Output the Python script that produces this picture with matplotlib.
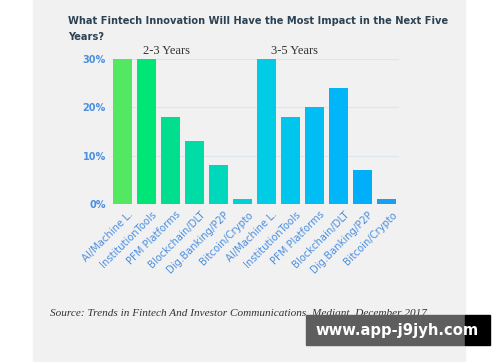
import matplotlib.pyplot as plt
import matplotlib.patches as mpatches
from matplotlib.transforms import ScaledTranslation

labels = ['AI/Machine L.', 'InstitutionTools', 'PFM Platforms', 'Blockchain/DLT',
          'Dig.Banking/P2P', 'Bitcoin/Crypto']
vals_23 = [30, 30, 18, 13, 8, 1]
vals_35 = [30, 18, 20, 24, 7, 1]
colores = ['#52e862', '#00e676', '#00de8e', '#00dca6', '#00d8bc', '#00d2d4',
           '#00cce6', '#00c6ee', '#00bef4', '#00b6f8', '#00aefa', '#1a9ff0']
yticks = [0, 10, 20, 30]

W, H = 500, 362
fig = plt.figure(figsize=(W / 100, H / 100), dpi=100)
fig.patch.set_facecolor('white')
renderer = fig.canvas.get_renderer()


def ajustar(t, ancho_px):
    # escala el tamaño de fuente para que el texto ocupe ancho_px
    w = t.get_window_extent(renderer).width
    t.set_fontsize(t.get_fontsize() * ancho_px / w)


# panel gris de fondo
fig.add_artist(mpatches.Rectangle((33 / W, 0), (465 - 33) / W, 1,
                                  transform=fig.transFigure, color='#f1f1f1', zorder=0))

ax = fig.add_axes([110.6 / W, 1 - 204 / H, (398.6 - 110.6) / W, (204 - 59) / H])
ax.set_facecolor('none')

todos = vals_23 + vals_35
x = list(range(len(todos)))
ax.bar(x, todos, width=0.79, color=colores, zorder=2)

ax.set_xlim(-0.5, len(todos) - 0.5)
ax.set_ylim(0, 30)
ax.set_yticks(yticks)
ax.set_yticklabels([f'{t}%' for t in yticks], color='#4a8fe0', fontsize=7,
                   fontweight='bold')
ax.set_xticks(x)
ax.set_xticklabels(labels + labels, rotation=45, ha='right', rotation_mode='anchor',
                   color='#4a8fe0', fontsize=7.2)
ax.tick_params(length=0, pad=4)
ax.tick_params(axis='y', pad=3.5)
desplaz = ScaledTranslation(5 / 100, 0, fig.dpi_scale_trans)
for lbl in ax.get_xticklabels():
    lbl.set_transform(lbl.get_transform() + desplaz)
for s in ax.spines.values():
    s.set_visible(False)
ax.grid(axis='y', color='#dce6f2', linewidth=0.8, zorder=1)
ax.set_axisbelow(True)

# etiquetas de grupo
g1 = ax.text(1.83, 30.4, '2-3 Years', ha='center', va='bottom', family='Liberation Serif',
             fontsize=9, color='#333333')
g2 = ax.text(7.18, 30.4, '3-5 Years', ha='center', va='bottom', family='Liberation Serif',
             fontsize=9, color='#333333')
ajustar(g1, 47)
ajustar(g2, 47)

t1 = fig.text(68 / W, 1 - 21 / H, 'What Fintech Innovation Will Have the Most Impact in the Next Five',
              fontsize=8, fontweight='bold', color='#2c4152', va='center')
ajustar(t1, 376)
fig.text(68 / W, 1 - 37 / H, 'Years?', fontsize=t1.get_fontsize(), fontweight='bold',
         color='#2c4152', va='center')

src = fig.text(50 / W, 1 - 313 / H,
               'Source: Trends in Fintech And Investor Communications, Mediant, December 2017',
               fontsize=8, style='italic', family='Liberation Serif', color='#333333',
               va='center')
ajustar(src, 380)

# marca de agua
fig.add_artist(mpatches.Rectangle((306 / W, 1 - 345 / H), (465 - 306) / W, 30 / H,
                                  transform=fig.transFigure, color='#5e5e5e', zorder=5))
fig.add_artist(mpatches.Rectangle((465 / W, 1 - 345 / H), 25 / W, 30 / H,
                                  transform=fig.transFigure, color='black', zorder=5))
wm = fig.text(397 / W, 1 - 330 / H, 'www.app-j9jyh.com', fontsize=11, fontweight='bold',
              color='white', ha='center', va='center', zorder=6)
ajustar(wm, 162)

fig.savefig('out.png', dpi=100, facecolor=fig.get_facecolor())
